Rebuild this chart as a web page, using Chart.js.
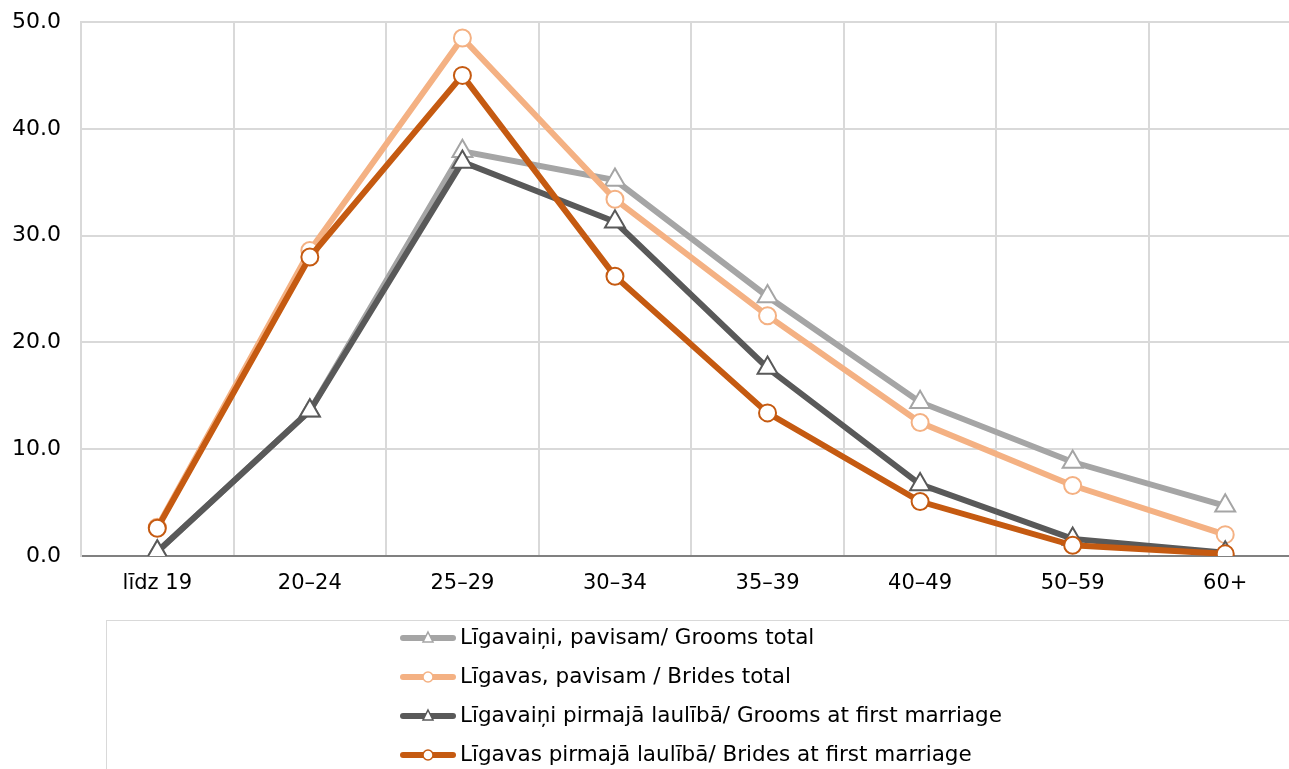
<!DOCTYPE html>
<html>
<head>
<meta charset="utf-8">
<script src="https://cdn.jsdelivr.net/npm/chart.js@4.4.1/dist/chart.umd.min.js"></script>
<style>
html,body{margin:0;padding:0;overflow:hidden;background:#fff;}
#wrap{width:1289px;height:769px;overflow:hidden;position:relative;}
canvas{display:block;}
</style>
</head>
<body>
<div id="wrap"><canvas id="c" width="1315" height="769" style="width:1315px;height:769px"></canvas></div>
<script>
const categories = ["līdz 19", "20–24", "25–29", "30–34", "35–39", "40–49", "50–59", "60+"];
const groomsTotal = [0.4, 13.6, 37.9, 35.2, 24.3, 14.4, 8.8, 4.7];
const bridesTotal = [2.7, 28.6, 48.5, 33.4, 22.5, 12.5, 6.6, 2.0];
const groomsFirst = [0.4, 13.6, 36.9, 31.3, 17.6, 6.7, 1.6, 0.3];
const bridesFirst = [2.6, 28.0, 45.0, 26.2, 13.4, 5.1, 1.0, 0.2];
const seriesNames = [
  "Līgavaiņi, pavisam/ Grooms total",
  "Līgavas, pavisam / Brides total",
  "Līgavaiņi pirmajā laulībā/ Grooms at first marriage",
  "Līgavas pirmajā laulībā/ Brides at first marriage"
];
const yTicks = [0, 10, 20, 30, 40, 50];

const FONT = "'DejaVu Sans', Verdana, sans-serif";
const colors = ["#A5A5A5", "#F4B183", "#595959", "#C55A11"];
const styles = ["triangle", "circle", "triangle", "circle"];
const values = [groomsTotal, bridesTotal, groomsFirst, bridesFirst];

const datasets = values.map((v, i) => ({
  label: seriesNames[i],
  data: v,
  borderColor: colors[i],
  backgroundColor: colors[i],
  borderWidth: 6,
  pointStyle: styles[i],
  pointRadius: styles[i] === "triangle" ? 11.5 : 8.5,
  pointHoverRadius: styles[i] === "triangle" ? 11.5 : 8.5,
  pointBackgroundColor: "#ffffff",
  pointBorderColor: colors[i],
  pointBorderWidth: 2,
  tension: 0,
  order: 4 - i
}));

const legendPlugin = {
  id: "boxLegend",
  afterDraw(chart) {
    const ctx = chart.ctx;
    ctx.save();
    ctx.strokeStyle = "#d9d9d9";
    ctx.lineWidth = 1;
    ctx.strokeRect(106.5, 620.5, 1300, 200);
    ctx.font = "21.5px " + FONT;
    ctx.textBaseline = "middle";
    ctx.textAlign = "left";
    const rows = [638, 677, 716, 755];
    chart.data.datasets.forEach((ds, i) => {
      const y = rows[i];
      ctx.strokeStyle = ds.borderColor;
      ctx.lineWidth = 6;
      ctx.lineCap = "round";
      ctx.beginPath();
      ctx.moveTo(403, y);
      ctx.lineTo(453, y);
      ctx.stroke();
      ctx.lineCap = "butt";
      ctx.fillStyle = "#fff";
      ctx.strokeStyle = ds.pointBorderColor;
      ctx.lineWidth = 1.5;
      if (ds.pointStyle === "circle") {
        ctx.beginPath();
        ctx.arc(428, y, 5, 0, Math.PI * 2);
        ctx.fill(); ctx.stroke();
      } else {
        ctx.beginPath();
        ctx.moveTo(428, y - 6);
        ctx.lineTo(433, y + 4);
        ctx.lineTo(423, y + 4);
        ctx.closePath();
        ctx.fill(); ctx.stroke();
      }
      ctx.fillStyle = "#000";
      ctx.fillText(ds.label, 460, y);
    });
    ctx.restore();
  }
};

new Chart(document.getElementById("c"), {
  type: "line",
  data: { labels: categories, datasets },
  options: {
    responsive: false,
    animation: false,
    devicePixelRatio: 1,
    layout: { padding: { top: 22, left: 0, right: 1, bottom: 163 } },
    plugins: { legend: { display: false }, tooltip: { enabled: false } },
    scales: {
      x: {
        type: "category",
        offset: true,
        grid: { offset: true, color: "#d9d9d9", lineWidth: 2, drawTicks: false },
        border: { color: "#808080", width: 2 },
        ticks: { color: "#000", font: { family: FONT, size: 21 }, padding: 15, maxRotation: 0, autoSkip: false },
        afterFit(s) { s.height = 50; s.paddingLeft = 0; s.paddingRight = 0; }
      },
      y: {
        min: 0, max: 50,
        afterBuildTicks(s) { s.ticks = yTicks.map(v => ({ value: v })); },
        grid: { color: "#d9d9d9", lineWidth: 2, drawTicks: false },
        border: { color: "#d9d9d9", width: 2 },
        ticks: { color: "#000", font: { family: FONT, size: 22 }, padding: 20, callback: v => Number(v).toFixed(1) },
        afterFit(s) { s.width = 81; s.paddingTop = 0; s.paddingBottom = 0; }
      }
    }
  },
  plugins: [legendPlugin]
});
</script>
</body>
</html>
